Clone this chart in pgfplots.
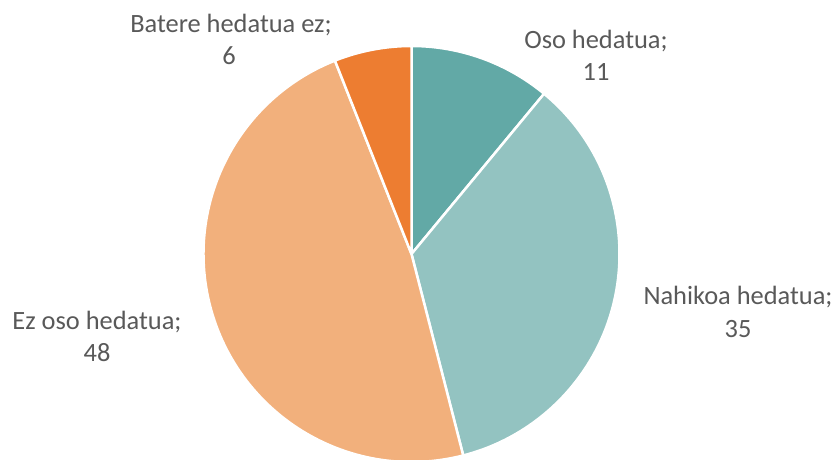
\documentclass[border=0pt]{standalone}
\usepackage{pgfplots}
\pgfplotsset{compat=1.18}
\usepackage{pgfplotstable}
\usepackage{fontspec}
\setmainfont{Carlito}
\definecolor{c1}{HTML}{62A9A6}
\definecolor{c2}{HTML}{93C3C1}
\definecolor{c3}{HTML}{F2B07C}
\definecolor{c4}{HTML}{ED7D31}
\definecolor{txt}{HTML}{595959}
\begin{document}
\begin{tikzpicture}
\begin{axis}[
  scale only axis, width=835pt, height=460pt,
  xmin=0, xmax=835, ymin=0, ymax=460,
  hide axis,
]
\path (axis cs:0,0) rectangle (axis cs:835,460);
\gdef\cum{0}
\foreach \v/\c in {11/c1,35/c2,48/c3,6/c4}{
  \pgfmathsetmacro\a{90-3.6*\cum}
  \pgfmathsetmacro\b{90-3.6*(\cum+\v)}
  \edef\temp{\noexpand\fill[\c, draw=white, line width=2.5pt, line join=round]
    (axis cs:411.5,206) -- ([shift={(\a:208pt)}]axis cs:411.5,206)
    arc[start angle=\a, end angle=\b, radius=208pt] -- cycle;}
  \temp
  \pgfmathsetmacro\n{\cum+\v}
  \xdef\cum{\n}
}
\tikzset{lbl/.style={anchor=base, text=txt, font=\fontsize{26.4}{32}\selectfont, inner sep=0pt}}
\node[lbl] at (axis cs:231,427) {Batere hedatua ez;};
\node[lbl] at (axis cs:229,395) {6};
\node[lbl] at (axis cs:596,411) {Oso hedatua;};
\node[lbl] at (axis cs:596,379) {11};
\node[lbl] at (axis cs:738,155) {Nahikoa hedatua;};
\node[lbl] at (axis cs:738,122) {35};
\node[lbl] at (axis cs:97,130) {Ez oso hedatua;};
\node[lbl] at (axis cs:97,98) {48};
\end{axis}
\end{tikzpicture}
\end{document}
